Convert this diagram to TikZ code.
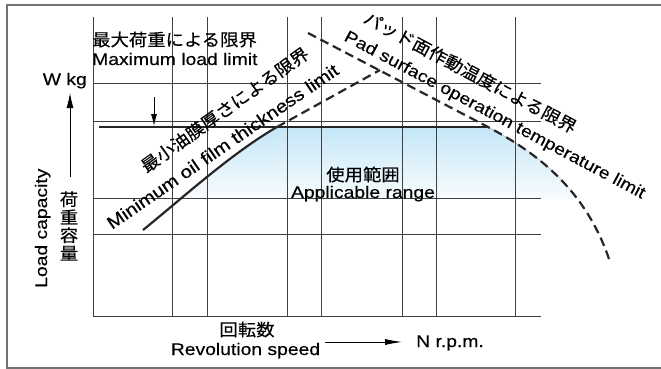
\documentclass[tikz,border=0pt]{standalone}
\usepackage{fontspec}
\setmainfont{Liberation Sans}[FakeStretch=1.15, FakeBold=0.3]
\newfontfamily\jpfont{Noto Sans CJK JP}[FakeStretch=1.08, FakeBold=0.3]
\usepackage{tikz}
\usetikzlibrary{arrows.meta}
\pgfdeclarelayer{edgelayer}
\pgfdeclarelayer{nodelayer}
\pgfsetlayers{edgelayer,nodelayer,main}
\definecolor{rangeblue}{RGB}{196,230,247}
\tikzstyle{none}=[inner sep=0pt]
\tikzstyle{entext}=[inner sep=0pt, font=\fontsize{16.8}{18}\selectfont]
\tikzstyle{jptext}=[inner sep=0pt, font=\fontsize{17}{18}\jpfont]
\tikzstyle{gridline}=[draw=black!75, line width=0.8pt]
\tikzstyle{hardlimit}=[draw=black!85, line width=2.2pt]
\tikzstyle{softlimit}=[draw=black!85, line width=2.2pt, dash pattern=on 9pt off 5pt]
\tikzstyle{frame}=[draw=black!55, line width=1.2pt]

\begin{document}
\begin{tikzpicture}[x=1pt, y=1pt]
	\useasboundingbox (0, 0) rectangle (661, -369);
	\begin{pgfonlayer}{nodelayer}
		\node [style=none] (0) at (93, -17) {};
		\node [style=none] (1) at (93, -316) {};
		\node [style=none] (2) at (172, -17) {};
		\node [style=none] (3) at (172, -316) {};
		\node [style=none] (4) at (207, -17) {};
		\node [style=none] (5) at (207, -316) {};
		\node [style=none] (6) at (287, -17) {};
		\node [style=none] (7) at (287, -316) {};
		\node [style=none] (8) at (321, -17) {};
		\node [style=none] (9) at (321, -316) {};
		\node [style=none] (10) at (402, -17) {};
		\node [style=none] (11) at (402, -316) {};
		\node [style=none] (12) at (436, -17) {};
		\node [style=none] (13) at (436, -316) {};
		\node [style=none] (14) at (515, -17) {};
		\node [style=none] (15) at (515, -316) {};
		\node [style=none] (16) at (93, -83) {};
		\node [style=none] (17) at (541, -83) {};
		\node [style=none] (18) at (93, -121) {};
		\node [style=none] (19) at (541, -121) {};
		\node [style=none] (20) at (93, -198) {};
		\node [style=none] (21) at (541, -198) {};
		\node [style=none] (22) at (93, -234) {};
		\node [style=none] (23) at (541, -234) {};
		\node [style=none] (24) at (541, -316) {};
		\node [style=none] (25) at (99, -127) {};
		\node [style=none] (26) at (488, -127) {};
		\node [style=none] (27) at (277, -127) {};
		\node [style=none] (28) at (143, -230) {};
		\node [style=none] (29) at (380, -70) {};
		\node [style=none] (30) at (308, -33) {};
		\node [style=none] (31) at (610, -262) {};
		\node [style=none] (32) at (154, -97) {};
		\node [style=none] (33) at (154, -126) {};
		\node [style=none] (34) at (70, -177) {};
		\node [style=none] (35) at (70, -93) {};
		\node [style=none] (36) at (325, -342) {};
		\node [style=none] (37) at (402, -342) {};
		\node [style=jptext, anchor=base west] (38) at (92, -46) {最大荷重による限界};
		\node [style=entext, anchor=base west] (39) at (92, -65) {Maximum load limit};
		\node [style=entext, anchor=base east] (40) at (87, -85) {W kg};
		\node [style=entext, anchor=base west, rotate=90] (41) at (47, -288) {Load capacity};
		\node [style=jptext, align=center] (42) at (69, -226) {荷\\重\\容\\量};
		\node [style=jptext, anchor=base] (43) at (363, -181) {使用範囲};
		\node [style=entext, anchor=base] (44) at (363, -198) {Applicable range};
		\node [style=jptext, anchor=base] (45) at (247, -336) {回転数};
		\node [style=entext, anchor=base] (46) at (245.5, -355) {Revolution speed};
		\node [style=entext, anchor=base west] (47) at (416, -347) {N r.p.m.};
		\node [style=jptext, anchor=base west, rotate=35.5] (48) at (146.3, -173.6) {最小油膜厚さによる限界};
		\node [style=entext, anchor=base west, rotate=34.5, font=\fontsize{17.6}{18}\selectfont] (49) at (112, -230) {Minimum oil film thickness limit};
		\node [style=jptext, anchor=base west, rotate=-28] (50) at (362, -22) {パッド面作動温度による限界};
		\node [style=entext, anchor=base west, rotate=-28] (51) at (343, -40) {Pad surface operation temperature limit};
	\end{pgfonlayer}
	\begin{pgfonlayer}{edgelayer}
		\begin{scope}
			\clip (28.center) to [out=39, in=-150, looseness=0.8] (27.center)
				-- (26.center) to [out=-28, in=108, out distance=47pt, in distance=81pt] (31.center) -- cycle;
			\fill [top color=rangeblue, bottom color=rangeblue!12] (99, -127) rectangle (620, -198);
		\end{scope}
		\draw [style=gridline] (0.center) to (1.center);
		\draw [style=gridline] (2.center) to (3.center);
		\draw [style=gridline] (4.center) to (5.center);
		\draw [style=gridline] (6.center) to (7.center);
		\draw [style=gridline] (8.center) to (9.center);
		\draw [style=gridline] (10.center) to (11.center);
		\draw [style=gridline] (12.center) to (13.center);
		\draw [style=gridline] (14.center) to (15.center);
		\draw [style=gridline] (16.center) to (17.center);
		\draw [style=gridline] (18.center) to (19.center);
		\draw [style=gridline] (20.center) to (21.center);
		\draw [style=gridline] (22.center) to (23.center);
		\draw [style=gridline] (1.center) to (24.center);
		\draw [style=hardlimit] (25.center) to (26.center);
		\draw [style=hardlimit] (28.center) to [out=39, in=-150, looseness=0.8] (27.center);
		\draw [style=softlimit] (27.center) to (29.center);
		\draw [style=softlimit] (30.center) to (26.center)
			to [out=-28, in=108, out distance=47pt, in distance=81pt] (31.center);
		\draw [-{Latex[length=12pt, width=6pt]}, line width=0.8pt] (32.center) to (33.center);
		\draw [-{Latex[length=15pt, width=7pt]}, line width=0.8pt] (34.center) to (35.center);
		\draw [-{Latex[length=17pt, width=6pt]}, line width=0.8pt] (36.center) to (37.center);
	\end{pgfonlayer}
	\draw [style=frame] (661, -5) -- (7, -5) -- (7, -368) -- (661, -368);
\end{tikzpicture}
\end{document}
